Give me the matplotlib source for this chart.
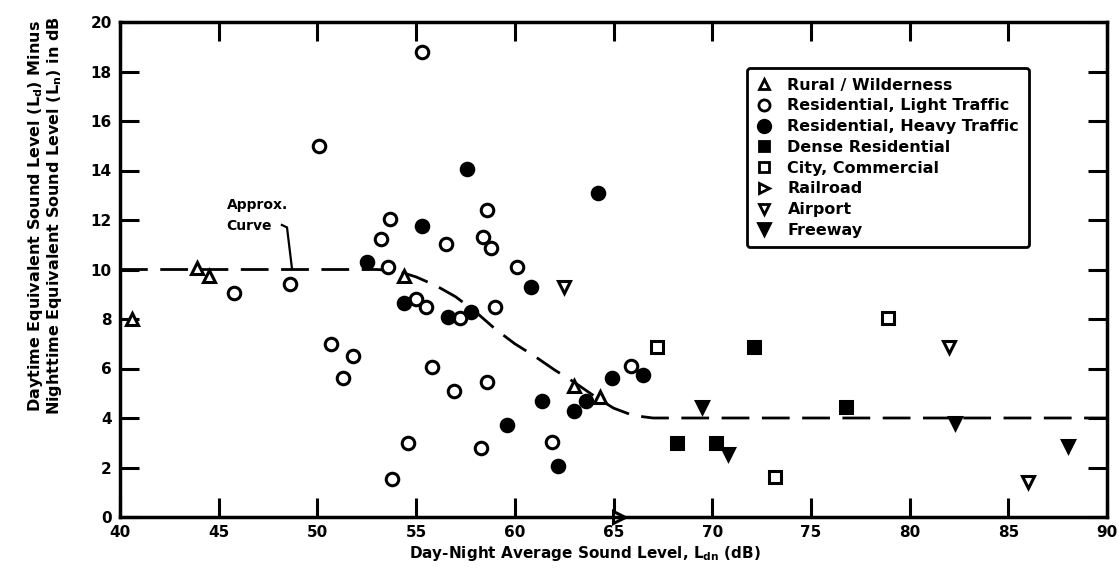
import numpy as np
import matplotlib
matplotlib.use('Agg')
import matplotlib.pyplot as plt
from matplotlib.lines import Line2D

# data (x = Ldn in dB, y = Ld - Ln in dB)
rural_x = [40.6, 43.9, 44.5, 54.4, 63.0, 64.3]
rural_y = [8.0, 10.05, 9.75, 9.75, 5.3, 4.85]

light_x = [55.3, 50.1, 53.7, 53.2, 56.5, 58.6, 58.4, 58.8, 53.6, 45.8, 48.6,
           55.0, 55.5, 57.2, 50.7, 51.8, 51.3, 55.8, 56.9, 58.6, 54.6, 53.8,
           58.3, 59.0, 60.1, 61.9, 65.9]
light_y = [18.8, 15.0, 12.05, 11.25, 11.05, 12.4, 11.3, 10.85, 10.1, 9.05, 9.4,
           8.8, 8.5, 8.05, 7.0, 6.5, 5.6, 6.05, 5.1, 5.45, 3.0, 1.55,
           2.8, 8.5, 10.1, 3.05, 6.1]

heavy_x = [57.6, 55.3, 52.5, 54.4, 56.6, 57.8, 64.2, 60.8, 61.4, 59.6, 63.0,
           63.6, 64.9, 66.5, 62.2]
heavy_y = [14.05, 11.75, 10.3, 8.65, 8.1, 8.3, 13.1, 9.3, 4.7, 3.7, 4.3,
           4.7, 5.6, 5.75, 2.05]

dense_x = [72.1, 68.2, 70.2, 76.8]
dense_y = [6.85, 3.0, 3.0, 4.45]

city_x = [67.2, 73.2, 78.9]
city_y = [6.85, 1.6, 8.05]

rail_x = [65.3]
rail_y = [0.0]

airport_x = [62.5, 82.0, 86.0]
airport_y = [9.3, 6.85, 1.4]

freeway_x = [69.5, 70.8, 82.3, 88.0]
freeway_y = [4.45, 2.55, 3.8, 2.85]

# approximate curve
curve_x = [40, 53, 54, 55, 56, 57, 58, 59, 60, 61, 62, 63, 64, 65, 66, 67, 90]
curve_y = [10, 10, 9.95, 9.7, 9.35, 8.9, 8.3, 7.6, 7.0, 6.5, 5.95, 5.45, 4.9, 4.4, 4.1, 4.0, 4.0]

xticks = [40, 45, 50, 55, 60, 65, 70, 75, 80, 85, 90]
yticks = [0, 2, 4, 6, 8, 10, 12, 14, 16, 18, 20]

plt.rcParams['font.family'] = 'DejaVu Sans'
plt.rcParams['font.weight'] = 'bold'

fig = plt.figure(figsize=(11.19, 5.68), dpi=100)
ax = fig.add_axes([120/1119, 1-517/568, 987/1119, 495/568])

ax.plot(curve_x, curve_y, color='black', lw=2, dashes=(10, 4.5))

# leader line for the curve label
ax.plot([48.2, 48.46, 48.71], [11.8, 11.7, 10.05], color='black', lw=1.6)
ax.text(45.4, 12.6, 'Approx.', fontsize=10, fontweight='bold', va='center')
ax.text(45.4, 11.75, 'Curve', fontsize=10, fontweight='bold', va='center')

ms = 9
mew = 2.2
kw = dict(ls='none', color='black', mew=mew, clip_on=False)
ax.plot(rural_x, rural_y, marker='^', ms=8, mfc='white', **kw)
ax.plot(light_x, light_y, marker='o', ms=ms, mfc='white', **kw)
ax.plot(heavy_x, heavy_y, marker='o', ms=ms, mfc='black', **kw)
ax.plot(dense_x, dense_y, marker='s', ms=8, mfc='black', **kw)
ax.plot(city_x, city_y, marker='s', ms=8, mfc='white', **kw)
ax.plot(rail_x, rail_y, marker='>', ms=8, mfc='white', **kw)
ax.plot(airport_x, airport_y, marker='v', ms=8, mfc='white', **kw)
ax.plot(freeway_x, freeway_y, marker='v', ms=9, mfc='black', **kw)

ax.set_xlim(40, 90)
ax.set_ylim(0, 20)
ax.set_xticks(xticks)
ax.set_yticks(yticks)
ax.tick_params(direction='in', length=14, width=2.2, labelsize=11,
               top=True, right=True, pad=6)
for s in ax.spines.values():
    s.set_linewidth(2.5)

ax.set_xlabel('Day-Night Average Sound Level, L$_{\\mathbf{dn}}$ (dB)',
              fontsize=11, fontweight='bold')
ax.xaxis.set_label_coords(0.471, -0.055)

fig.text(45/1119, 1-216/568,
         'Daytime Equivalent Sound Level (L$_{\\mathbf{d}}$) Minus\n'
         'Nighttime Equivalent Sound Level (L$_{\\mathbf{n}}$) in dB',
         rotation=90, ha='center', va='center', multialignment='center',
         fontsize=11.5, fontweight='bold', linespacing=0.95)

labels = ['Rural / Wilderness', 'Residential, Light Traffic',
          'Residential, Heavy Traffic', 'Dense Residential',
          'City, Commercial', 'Railroad', 'Airport', 'Freeway']
handles = [
    Line2D([], [], ls='none', marker='^', ms=7, mfc='white', mec='black', mew=2),
    Line2D([], [], ls='none', marker='o', ms=8, mfc='white', mec='black', mew=2),
    Line2D([], [], ls='none', marker='o', ms=9, mfc='black', mec='black', mew=2),
    Line2D([], [], ls='none', marker='s', ms=7, mfc='black', mec='black', mew=2),
    Line2D([], [], ls='none', marker='s', ms=7, mfc='white', mec='black', mew=2),
    Line2D([], [], ls='none', marker='>', ms=7, mfc='white', mec='black', mew=2),
    Line2D([], [], ls='none', marker='v', ms=7, mfc='white', mec='black', mew=2),
    Line2D([], [], ls='none', marker='v', ms=8, mfc='black', mec='black', mew=2),
]
leg = ax.legend(handles, labels, loc='upper left', bbox_to_anchor=(0.635, 0.907),
                borderaxespad=0, prop={'size': 11.5, 'weight': 'bold'},
                labelspacing=0.36, handlelength=1.0, handletextpad=0.95,
                borderpad=0.6, fancybox=True, framealpha=1, edgecolor='black')
leg.get_frame().set_linewidth(2)

fig.savefig('out.png', dpi=100)
